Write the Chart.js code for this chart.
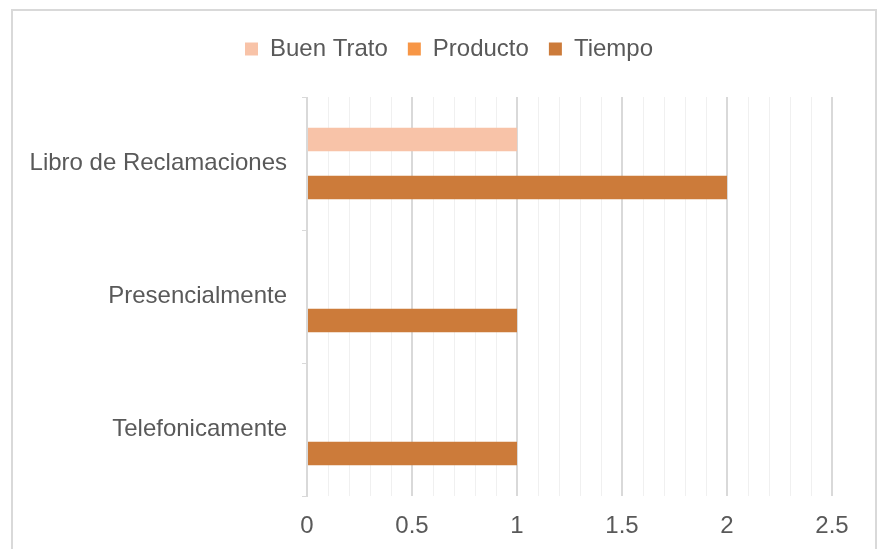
<!DOCTYPE html>
<html>
<head>
<meta charset="utf-8">
<script src="https://cdn.jsdelivr.net/npm/chart.js@4/dist/chart.umd.min.js"></script>
<style>
  html, body { margin: 0; padding: 0; background: #fff; }
  #wrap { width: 882px; height: 549px; position: relative; }
</style>
</head>
<body>
<div id="wrap"><canvas id="myChart" width="882" height="549"></canvas></div>
<script>
var categories = ['Libro de Reclamaciones', 'Presencialmente', 'Telefonicamente'];
var buenTrato = [1, 0, 0];
var producto = [0, 0, 0];
var tiempo = [2, 1, 1];

var textColor = '#595959';
var fontFamily = '"Liberation Sans", Arial, sans-serif';

// light frame around the whole chart
var frame = {
  id: 'frame',
  beforeDraw(chart) {
    var c = chart.ctx;
    c.save();
    c.fillStyle = '#fff';
    c.fillRect(0, 0, chart.width, chart.height);
    c.strokeStyle = '#d9d9d9';
    c.lineWidth = 2;
    c.strokeRect(12, 10, 864, 560);
    c.restore();
  }
};

// extra room under the legend, and centre it on the frame
var legendSpace = {
  id: 'legendSpace',
  beforeInit(chart) {
    var fit = chart.legend.fit;
    chart.legend.fit = function () {
      fit.bind(chart.legend)();
      this.height += 26;
    };
  },
  afterLayout(chart) {
    chart.legend.left += 33;
    chart.legend.right += 33;
  }
};

var ctx = document.getElementById('myChart').getContext('2d');

const chart = new Chart(ctx, {
  type: 'bar',
  data: {
    labels: categories,
    datasets: [
      { label: 'Buen Trato', data: buenTrato, backgroundColor: '#F8C3A8' },
      { label: 'Producto', data: producto, backgroundColor: '#F79646' },
      { label: 'Tiempo', data: tiempo, backgroundColor: '#CC7B3A' }
    ]
  },
  options: {
    indexAxis: 'y',
    responsive: false,
    animation: false,
    categoryPercentage: 0.54,
    barPercentage: 0.98,
    layout: {
      padding: { top: 17, right: 50, bottom: 0, left: 0 }
    },
    plugins: {
      tooltip: { enabled: false },
      legend: {
        position: 'top',
        labels: {
          boxWidth: 13,
          boxHeight: 13,
          padding: 20,
          color: textColor,
          font: { family: fontFamily, size: 24 }
        }
      }
    },
    scales: {
      x: {
        min: 0,
        max: 2.5,
        border: { display: false },
        grid: {
          drawTicks: false,
          color(c) {
            var v = Math.round(c.tick.value * 10);
            return v % 5 === 0 ? '#d9d9d9' : '#f0f0f0';
          },
          lineWidth(c) {
            var v = Math.round(c.tick.value * 10);
            return v % 5 === 0 ? 2 : 1;
          }
        },
        ticks: {
          stepSize: 0.1,
          autoSkip: false,
          maxRotation: 0,
          padding: 16,
          color: textColor,
          font: { family: fontFamily, size: 24 },
          callback(value) {
            var v = Math.round(value * 10);
            return v % 5 === 0 ? String(v / 10) : '';
          }
        },
        afterFit(scale) {
          scale.height = 53;
        }
      },
      y: {
        border: { color: '#d9d9d9', width: 1 },
        grid: {
          drawOnChartArea: false,
          drawTicks: true,
          tickLength: 5,
          color: '#d9d9d9'
        },
        ticks: {
          padding: 15,
          color: textColor,
          font: { family: fontFamily, size: 24 }
        },
        afterFit(scale) {
          scale.width = 307;
        }
      }
    }
  },
  plugins: [frame, legendSpace]
});
</script>
</body>
</html>
